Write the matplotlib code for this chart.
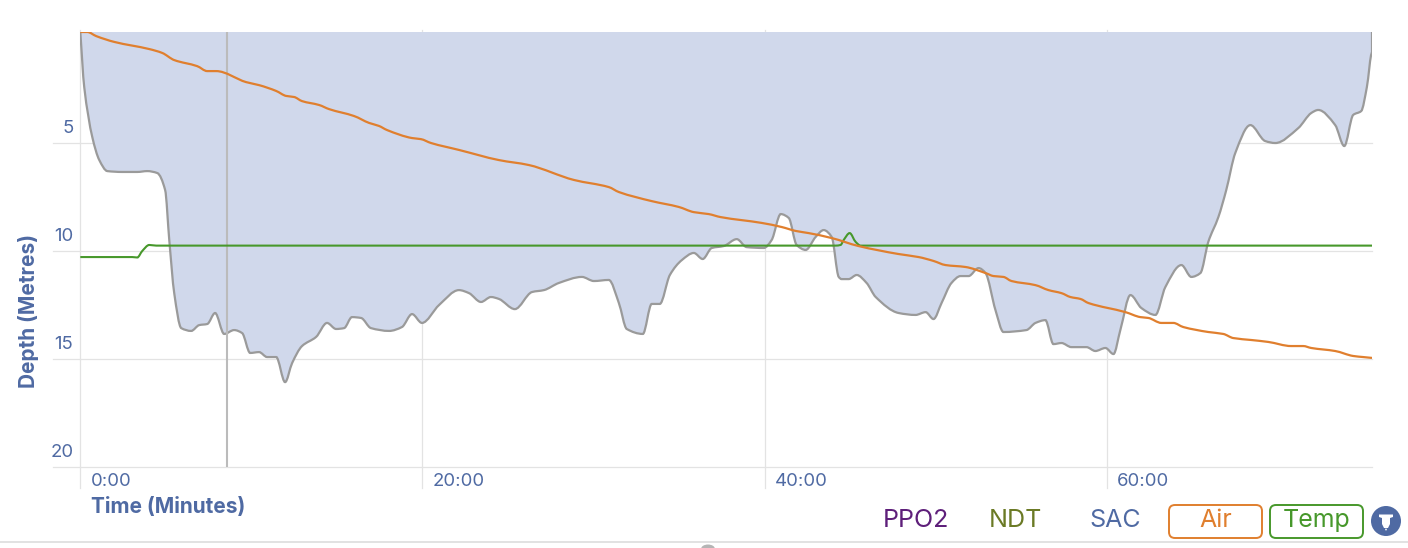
import matplotlib
matplotlib.use('Agg')
import matplotlib.pyplot as plt
from matplotlib.patches import FancyBboxPatch, Circle, Polygon, Ellipse, PathPatch
from matplotlib.path import Path

plt.rcParams['font.family'] = ['Inter', 'DejaVu Sans']

# Dive profile: time in minutes, depth in metres
depth_time = [0, .23, .70, 1.11, 1.58, 2.45, 3.33, 3.91, 4.50, 4.96, 5.20, 5.49, 5.90, 6.48, 6.95, 7.42, 7.88, 8.41, 8.99, 9.46,
              9.93, 10.45, 10.92, 11.45, 11.97, 12.38, 12.96, 13.78, 14.42, 14.95, 15.42, 15.88, 16.41, 16.99, 18.05, 18.80, 19.39, 19.97,
              20.97, 22.13, 22.72, 23.42, 24.0, 24.47, 25.40, 26.40, 27.10, 27.97, 29.32, 30.02, 30.89, 31.48, 31.94, 32.88, 33.40, 33.87,
              34.46, 35.16, 35.86, 36.38, 36.91, 37.61, 38.37, 38.95, 39.95, 40.41, 40.94, 41.41, 41.87, 42.40, 42.98, 43.45, 43.92, 44.33,
              44.50, 44.91, 45.38, 45.96, 46.49, 47.83, 48.82, 49.41, 49.87, 50.34, 50.92, 51.45, 51.92, 52.50, 52.91, 53.49, 53.96, 55.30,
              55.83, 56.41, 56.88, 57.35, 57.93, 58.81, 59.33, 59.92, 60.39, 60.79, 61.38, 62.02, 62.84, 63.42, 64.36, 64.94, 65.47, 65.93,
              66.52, 66.98, 67.51, 68.39, 69.26, 69.85, 71.19, 71.95, 72.36, 73.35, 73.88, 74.40, 74.87, 75.20, 75.50, 75.50]
depth = [-.14, 2.41, 4.72, 5.79, 6.30, 6.34, 6.34, 6.30, 6.39, 7.18, 9.49, 11.95, 13.57, 13.70, 13.43, 13.38, 12.87, 13.84, 13.66, 13.80,
         14.72, 14.68, 14.91, 14.91, 16.07, 15.19, 14.40, 13.98, 13.33, 13.61, 13.57, 13.06, 13.10, 13.57, 13.70, 13.52, 12.92, 13.33,
         12.50, 11.81, 11.95, 12.36, 12.13, 12.22, 12.69, 11.90, 11.81, 11.48, 11.20, 11.39, 11.34, 12.41, 13.61, 13.84, 12.45, 12.45,
         11.11, 10.42, 10.09, 10.37, 9.86, 9.77, 9.45, 9.82, 9.86, 9.49, 8.29, 8.47, 9.72, 9.95, 9.35, 9.03, 9.35, 11.20,
         11.30, 11.30, 11.11, 11.48, 12.13, 12.87, 12.96, 12.83, 13.15, 12.41, 11.48, 11.16, 11.16, 10.79, 11.02, 12.73, 13.75, 13.66,
         13.33, 13.20, 14.31, 14.26, 14.45, 14.45, 14.63, 14.49, 14.77, 13.66, 12.04, 12.64, 12.96, 11.67, 10.65, 11.20, 11.02, 9.58,
         8.43, 7.18, 5.46, 4.17, 4.91, 5.0, 4.31, 3.61, 3.47, 4.17, 5.14, 3.70, 3.52, 2.41, .83, -.14]

# Air and temperature, read against the depth scale
air_time = [0, .41, .93, 1.99, 4.03, 4.79, 5.49, 6.83, 7.42, 7.94, 9.69, 10.45, 11.45, 12.03, 12.50, 12.96, 13.96, 14.54, 16.0, 16.88,
            17.46, 17.93, 19.39, 19.91, 20.50, 22.13, 24.47, 26.22, 28.85, 30.89, 31.48, 33.40, 34.98, 35.86, 36.73, 37.43, 39.83, 41.0,
            41.81, 42.57, 43.92, 45.49, 47.83, 49.0, 49.87, 50.57, 51.74, 52.91, 53.38, 53.96, 54.43, 55.83, 56.59, 57.35, 57.87, 58.46,
            58.93, 61.09, 61.96, 62.43, 63.19, 63.89, 64.47, 65.93, 66.81, 67.39, 68.44, 69.44, 70.78, 71.48, 71.95, 73.35, 74.40, 74.99, 75.50]
air = [-.14, -.14, .05, .32, .65, .83, 1.16, 1.44, 1.67, 1.67, 2.18, 2.32, 2.59, 2.82, 2.87, 3.06, 3.24, 3.43, 3.75, 4.07,
       4.21, 4.40, 4.77, 4.82, 5.0, 5.32, 5.79, 6.02, 6.71, 7.04, 7.27, 7.69, 7.96, 8.20, 8.29, 8.43, 8.70, 8.89,
       9.07, 9.17, 9.40, 9.77, 10.14, 10.28, 10.46, 10.65, 10.74, 11.02, 11.16, 11.20, 11.39, 11.58, 11.81, 11.95, 12.13, 12.22,
       12.41, 12.83, 13.06, 13.10, 13.33, 13.33, 13.52, 13.75, 13.84, 14.03, 14.12, 14.21, 14.40, 14.40, 14.49, 14.63, 14.86, 14.91, 14.95]
temp_time = [0, 3.04, 3.33, 3.62, 4.03, 4.44, 44.15, 44.44, 44.62, 44.97, 45.32, 45.61, 75.50]
temp = [10.28, 10.28, 10.30, 10.0, 9.72, 9.75, 9.75, 9.72, 9.49, 9.17, 9.58, 9.75, 9.75]

x_ticks = [0, 20, 40, 60]
x_labels = ['0:00', '20:00', '40:00', '60:00']
y_ticks = [5, 10, 15, 20]
cursor_time = 8.59
legend_names = ['PPO2', 'NDT', 'SAC']

BLUE = '#4F6AA3'
GRID = '#E3E3E3'
W, H = 1408, 548


def smooth_path(xs, ys):
    # monotone cubic through the points, same look as the web chart's curves
    n = len(xs)
    slopes = []
    for i in range(n - 1):
        h = xs[i + 1] - xs[i]
        slopes.append((ys[i + 1] - ys[i]) / h if h > 0 else 0)
    tang = [slopes[0]]
    for i in range(1, n - 1):
        a, b = slopes[i - 1], slopes[i]
        tang.append(0 if a * b <= 0 else 2 * a * b / (a + b))
    tang.append(slopes[-1])
    verts = [(xs[0], ys[0])]
    codes = [Path.MOVETO]
    for i in range(n - 1):
        h = xs[i + 1] - xs[i]
        if h == 0:
            verts.append((xs[i + 1], ys[i + 1]))
            codes.append(Path.LINETO)
            continue
        verts += [(xs[i] + h / 3, ys[i] + tang[i] * h / 3),
                  (xs[i + 1] - h / 3, ys[i + 1] - tang[i + 1] * h / 3),
                  (xs[i + 1], ys[i + 1])]
        codes += [Path.CURVE4] * 3
    return verts, codes


fig = plt.figure(figsize=(W / 100, H / 100), dpi=100)

# overlay in pixel coordinates for page furniture
page = fig.add_axes([0, 0, 1, 1])
page.set_xlim(0, W)
page.set_ylim(H, 0)
page.axis('off')

# chart area
ax = fig.add_axes([80.3 / W, 1 - 467 / H, (1372 - 80.3) / W, (467 - 32) / H])
ax.patch.set_alpha(0)
ax.set_xlim(0, 75.5)
ax.set_ylim(20, -.14)
for s in ax.spines.values():
    s.set_visible(False)
ax.set_xticks([])
ax.set_yticks([])

# grid lines stick out past the chart area
for t in x_ticks:
    ax.plot([t, t], [-.25, 20.95], color=GRID, lw=.9, clip_on=False, zorder=1)
for d in y_ticks:
    ax.plot([-1.6, 75.5], [d, d], color=GRID, lw=.9, clip_on=False, zorder=1)

v, c = smooth_path(depth_time, depth)
ax.add_patch(PathPatch(Path(v + [v[0]], c + [Path.CLOSEPOLY]), fc='#D0D8EB', ec='none', zorder=2))
ax.add_patch(PathPatch(Path(v, c), fc='none', ec='#9A9A9A', lw=1.6, zorder=3))
ax.plot([cursor_time, cursor_time], [-.1, 19.95], color='#BBBBBB', lw=1.5, zorder=3)
v, c = smooth_path(temp_time, temp)
ax.add_patch(PathPatch(Path(v, c), fc='none', ec='#47982B', lw=1.5, zorder=4))
v, c = smooth_path(air_time, air)
ax.add_patch(PathPatch(Path(v, c), fc='none', ec='#E07F2E', lw=1.6, zorder=5))

for t, lab in zip(x_ticks, x_labels):
    ax.annotate(lab, (t, 20), xytext=(10.5, -14), textcoords='offset pixels', ha='left', va='center',
                color=BLUE, fontsize=13.4, annotation_clip=False)
for d in y_ticks:
    ax.annotate(str(d), (0, d), xytext=(-7, 14.5), textcoords='offset pixels', ha='right', va='center',
                color=BLUE, fontsize=13.4, annotation_clip=False)

page.text(91, 507, 'Time (Minutes)', color=BLUE, fontsize=15, fontweight='bold', ha='left', va='center')
page.text(29, 311, 'Depth (Metres)', color=BLUE, fontsize=15, fontweight='bold', rotation=90, ha='center', va='center')

# series toggles
page.text(915.5, 520.5, legend_names[0], color='#5E1F7A', fontsize=18, ha='center', va='center')
page.text(1015.5, 520.5, legend_names[1], color='#6B7A25', fontsize=18, ha='center', va='center')
page.text(1115.5, 520.5, legend_names[2], color=BLUE, fontsize=18, ha='center', va='center')
for x0, x1, col, name in [(1169, 1262, '#E07F2E', 'Air'), (1270, 1363, '#47982B', 'Temp')]:
    page.add_patch(FancyBboxPatch((x0, 505), x1 - x0, 33, boxstyle='round,pad=0,rounding_size=6',
                                  fc='white', ec=col, lw=1.4))
    page.text((x0 + x1) / 2, 520.5, name, color=col, fontsize=18, ha='center', va='center')

# alarm badge with a white bell
page.add_patch(Circle((1386, 521), 15, fc=BLUE, ec='none'))
page.add_patch(Polygon([(1379, 514.5), (1393, 514.5), (1393, 517), (1390, 518), (1390, 524), (1388, 528), (1384, 528), (1382, 524),
                        (1382, 518), (1379, 517)], fc='white', ec='none'))
page.add_patch(Circle((1386, 529.5), 1, fc='#DDE3F0', ec='none'))

# bottom rule and the handle peeking in
page.plot([0, W], [541.5, 541.5], color='#DDDDDD', lw=1.2)
page.add_patch(Ellipse((708, 549), 14, 9, fc='#B5B5B5', ec='none'))

fig.savefig('out.png', dpi=100)
